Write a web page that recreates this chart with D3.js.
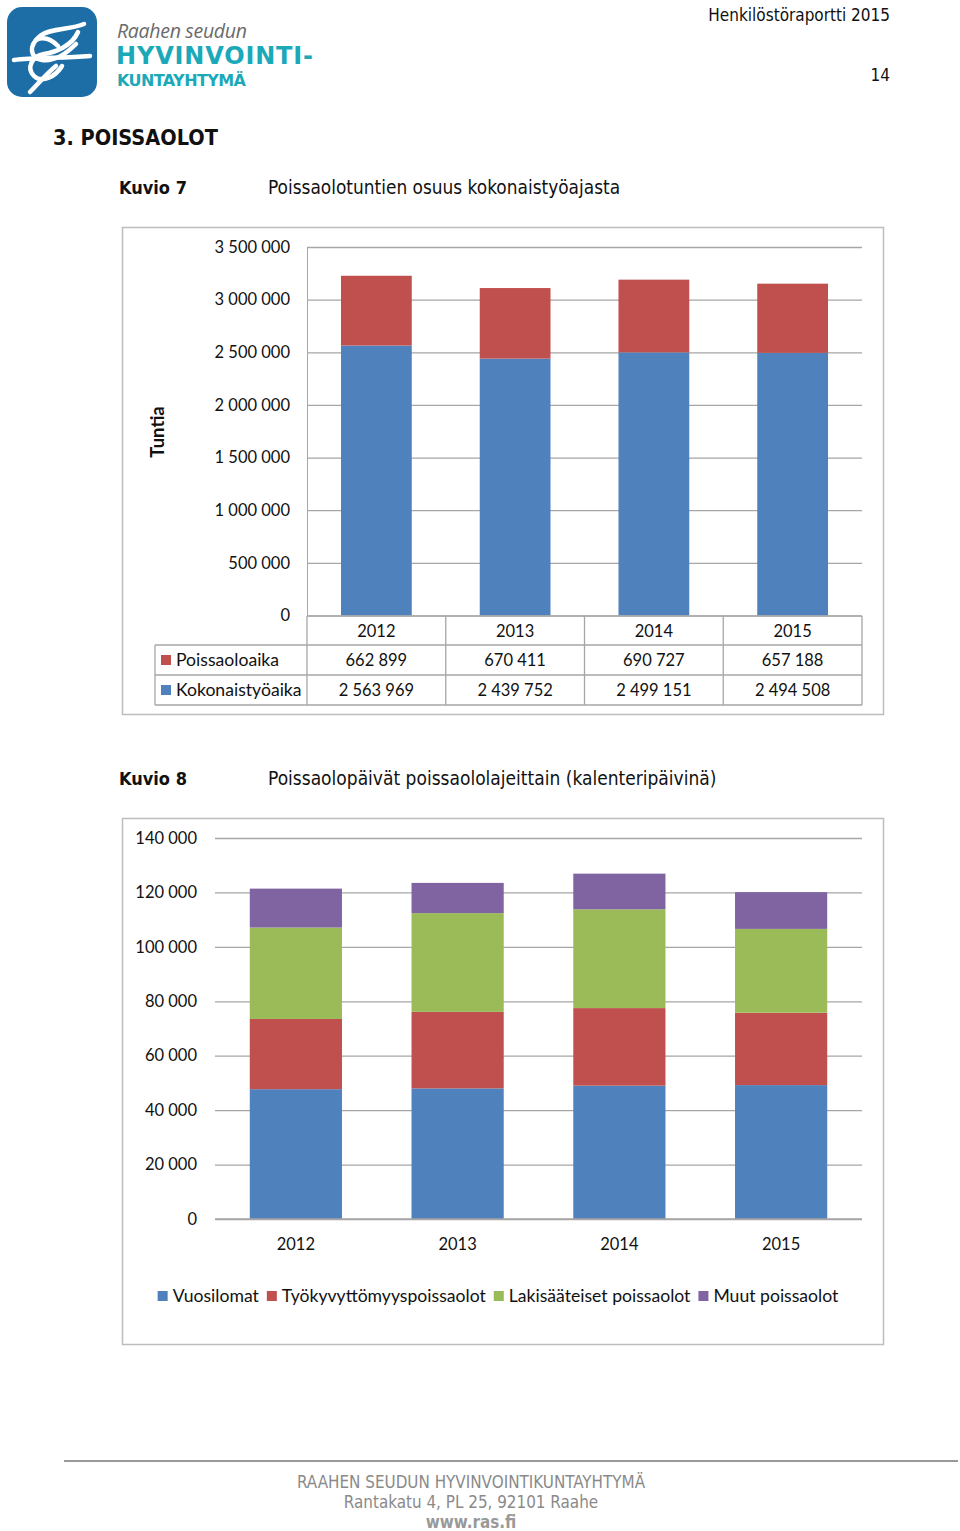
<!DOCTYPE html>
<html><head><meta charset="utf-8">
<script src="https://cdn.jsdelivr.net/npm/d3@7"></script>
<style>
html,body{margin:0;padding:0;background:#fff;}
svg{display:block;}
</style></head>
<body>
<svg id="page" width="960" height="1531"></svg>
<script>
// ---------- DATA ----------
const years = ["2012", "2013", "2014", "2015"];
const poissaoloaika = [662899, 670411, 690727, 657188];
const kokonaistyoaika = [2563969, 2439752, 2499151, 2494508];
const chart1Ticks = [0, 500000, 1000000, 1500000, 2000000, 2500000, 3000000, 3500000];
const chart1Series = ["Kokonaistyöaika", "Poissaoloaika"];

const chart2Series = ["Vuosilomat", "Työkyvyttömyyspoissaolot", "Lakisääteiset poissaolot", "Muut poissaolot"];
const vuosilomat = [47700, 48000, 49000, 49200];
const tyokyvyttomyys = [25800, 28100, 28500, 26600];
const lakisaateiset = [33600, 36300, 36300, 30800];
const muut = [14300, 11100, 13100, 13500];
const chart2Ticks = [0, 20000, 40000, 60000, 80000, 100000, 120000, 140000];

const BLUE = "#4f81bd", RED = "#c0504d", GREEN = "#9bbb59", PURPLE = "#8064a2";
const fmt = v => d3.format(",")(v).replace(/,/g, " ");
const CH = "Lato, 'Open Sans', sans-serif";
const TXT = "'DejaVu Sans Condensed','DejaVu Sans', sans-serif";
const NUM = 16.5, LBL = 17.6;

const svg = d3.select("#page");

// ---------- HEADER / LOGO ----------
const logo = svg.append("g");
logo.append("rect").attr("x", 7).attr("y", 7).attr("width", 90).attr("height", 90).attr("rx", 15).attr("fill", "#1d6ea6");
const knot = logo.append("g").attr("fill", "none").attr("stroke", "#fff").attr("stroke-width", 4.5).attr("stroke-linecap", "round");
knot.append("path").attr("d", "M84,24 C70,30 50,28 40,36 C28,46 30,58 42,60 C56,62 68,52 76,44");
knot.append("path").attr("d", "M78,32 C72,46 56,52 44,54 C32,56 26,68 34,76 C42,84 56,76 62,66");
knot.append("path").attr("d", "M14,60 C34,58 60,58 90,56");
knot.append("path").attr("d", "M56,66 C46,74 38,84 30,92");
knot.append("path").attr("d", "M36,40 C44,36 52,40 58,46");
logo.append("text").attr("x", 117).attr("y", 38).attr("font-family", "'Open Sans', sans-serif").attr("font-style", "italic").attr("font-size", 19.5).attr("fill", "#6b6b6b").attr("textLength", 130).text("Raahen seudun");
logo.append("text").attr("x", 116).attr("y", 64).attr("font-family", "'DejaVu Sans', sans-serif").attr("font-weight", "bold").attr("font-size", 24).attr("fill", "#1ba9b9").attr("textLength", 197).text("HYVINVOINTI-");
logo.append("text").attr("x", 117).attr("y", 86).attr("font-family", "'DejaVu Sans', sans-serif").attr("font-weight", "bold").attr("font-size", 16).attr("fill", "#1ba9b9").attr("textLength", 129).text("KUNTAYHTYMÄ");

svg.append("text").attr("x", 890).attr("y", 21).attr("text-anchor", "end").attr("font-family", TXT).attr("font-size", 17).attr("fill", "#111").text("Henkilöstöraportti 2015");
svg.append("text").attr("x", 890).attr("y", 81).attr("text-anchor", "end").attr("font-family", TXT).attr("font-size", 17).attr("fill", "#111").text("14");

svg.append("text").attr("x", 53).attr("y", 145).attr("font-family", TXT).attr("font-weight", "bold").attr("font-size", 21.5).attr("fill", "#111").text("3.  POISSAOLOT");
svg.append("text").attr("x", 119).attr("y", 194).attr("font-family", TXT).attr("font-weight", "bold").attr("font-size", 18).attr("fill", "#111").text("Kuvio 7");
svg.append("text").attr("x", 268).attr("y", 194).attr("font-family", TXT).attr("font-size", 18.9).attr("fill", "#111").text("Poissaolotuntien osuus kokonaistyöajasta");
svg.append("text").attr("x", 119).attr("y", 785).attr("font-family", TXT).attr("font-weight", "bold").attr("font-size", 18).attr("fill", "#111").text("Kuvio 8");
svg.append("text").attr("x", 268).attr("y", 785).attr("font-family", TXT).attr("font-size", 19).attr("fill", "#111").text("Poissaolopäivät poissaololajeittain (kalenteripäivinä)");

// ---------- CHART 1 ----------
svg.append("rect").attr("x", 122.5).attr("y", 227.5).attr("width", 761).attr("height", 487).attr("fill", "none").attr("stroke", "#bdbdbd").attr("stroke-width", 1.5);
const x1 = d3.scaleBand().domain(years).range([307, 862]).paddingInner(0.49).paddingOuter(0.245);
const y1 = d3.scaleLinear().domain([0, 3500000]).range([615.5, 247]);
const g1 = svg.append("g");
const ax1 = g1.append("g").attr("transform", "translate(307,0)")
  .call(d3.axisLeft(y1).tickValues(chart1Ticks).tickSize(-555).tickPadding(17).tickFormat(fmt));
ax1.select(".domain").attr("stroke", "#a6a6a6");
ax1.selectAll(".tick line").attr("stroke", "#a6a6a6").attr("stroke-width", 1.3);
ax1.selectAll(".tick text").attr("font-family", CH).attr("font-size", NUM).attr("fill", "#111");
ax1.selectAll(".tick").filter(d => d === 0).select("line").remove();

const stack1 = d3.stack().keys([0, 1]).value((d, k) => k === 0 ? d.k : d.p)(years.map((yy, i) => ({year: yy, k: kokonaistyoaika[i], p: poissaoloaika[i]})));
const col1 = [BLUE, RED];
stack1.forEach((s, si) => {
  g1.append("g").selectAll("rect").data(s).join("rect")
    .attr("x", d => x1(d.data.year)).attr("width", x1.bandwidth())
    .attr("y", d => y1(d[1])).attr("height", d => y1(d[0]) - y1(d[1]))
    .attr("fill", col1[si]);
});
g1.append("text").attr("transform", "translate(164,432) rotate(-90)").attr("text-anchor", "middle")
  .attr("font-family", CH).attr("font-weight", "bold").attr("font-size", 18.5).attr("fill", "#111").text("Tuntia");

// data table
const tb = g1.append("g").attr("stroke", "#a6a6a6").attr("stroke-width", 1.3);
const colEdges = [307].concat(years.map(yy => x1(yy) + x1.bandwidth() / 2 + x1.step() / 2));
const rowTop = 616, rowH = [29, 30, 30];
const rowY = [rowTop, rowTop + rowH[0], rowTop + rowH[0] + rowH[1], rowTop + rowH[0] + rowH[1] + rowH[2]];
tb.append("line").attr("x1", 307).attr("x2", 862).attr("y1", rowY[0]).attr("y2", rowY[0]);
[1, 2, 3].forEach(r => tb.append("line").attr("x1", 155).attr("x2", 862).attr("y1", rowY[r]).attr("y2", rowY[r]));
colEdges.forEach(cx => tb.append("line").attr("x1", cx).attr("x2", cx).attr("y1", rowY[0]).attr("y2", rowY[3]));
tb.append("line").attr("x1", 155).attr("x2", 155).attr("y1", rowY[1]).attr("y2", rowY[3]);
const tt = g1.append("g").attr("font-family", CH).attr("font-size", NUM).attr("fill", "#111").attr("text-anchor", "middle");
years.forEach((yy, i) => {
  const cx = x1(yy) + x1.bandwidth() / 2;
  tt.append("text").attr("x", cx).attr("y", rowY[0] + 20.5).text(yy);
  tt.append("text").attr("x", cx).attr("y", rowY[1] + 21).text(fmt(poissaoloaika[i]));
  tt.append("text").attr("x", cx).attr("y", rowY[2] + 21).text(fmt(kokonaistyoaika[i]));
});
[[chart1Series[1], RED, rowY[1]], [chart1Series[0], BLUE, rowY[2]]].forEach(([name, c, ry]) => {
  g1.append("rect").attr("x", 161).attr("y", ry + 10).attr("width", 10).attr("height", 10).attr("fill", c);
  g1.append("text").attr("x", 176).attr("y", ry + 21).attr("font-family", CH).attr("font-size", LBL).attr("fill", "#111").text(name);
});

// ---------- CHART 2 ----------
svg.append("rect").attr("x", 122.5).attr("y", 818.5).attr("width", 761).attr("height", 526).attr("fill", "none").attr("stroke", "#bdbdbd").attr("stroke-width", 1.5);
const x2 = d3.scaleBand().domain(years).range([215, 862]).paddingInner(0.43).paddingOuter(0.215);
const y2 = d3.scaleLinear().domain([0, 140000]).range([1219, 838]);
const g2 = svg.append("g");
const ax2 = g2.append("g").attr("transform", "translate(215,0)")
  .call(d3.axisLeft(y2).tickValues(chart2Ticks).tickSize(-647).tickPadding(18).tickFormat(fmt));
ax2.select(".domain").remove();
ax2.selectAll(".tick line").attr("stroke", "#a6a6a6").attr("stroke-width", 1.3);
ax2.selectAll(".tick text").attr("font-family", CH).attr("font-size", NUM).attr("fill", "#111");

const rows2 = years.map((yy, i) => ({year: yy, s0: vuosilomat[i], s1: tyokyvyttomyys[i], s2: lakisaateiset[i], s3: muut[i]}));
const stack2 = d3.stack().keys(["s0", "s1", "s2", "s3"])(rows2);
const col2 = [BLUE, RED, GREEN, PURPLE];
stack2.forEach((s, si) => {
  g2.append("g").selectAll("rect").data(s).join("rect")
    .attr("x", d => x2(d.data.year)).attr("width", x2.bandwidth())
    .attr("y", d => y2(d[1])).attr("height", d => y2(d[0]) - y2(d[1]))
    .attr("fill", col2[si]);
});
g2.append("line").attr("x1", 215).attr("x2", 862).attr("y1", y2(0)).attr("y2", y2(0)).attr("stroke", "#a6a6a6").attr("stroke-width", 1.3);
const ax2x = g2.append("g").attr("transform", "translate(0,1219)").call(d3.axisBottom(x2).tickSize(0).tickPadding(19));
ax2x.select(".domain").remove();
ax2x.selectAll(".tick text").attr("font-family", CH).attr("font-size", NUM).attr("fill", "#111");

// legend
const lg = g2.append("g");
let lx = 0;
chart2Series.forEach((name, i) => {
  const it = lg.append("g").attr("transform", `translate(${lx},0)`);
  it.append("rect").attr("x", 0).attr("y", -11).attr("width", 10).attr("height", 10).attr("fill", col2[i]);
  const t = it.append("text").attr("x", 15).attr("y", 0).attr("font-family", CH).attr("font-size", LBL).attr("fill", "#111").text(name);
  lx += 15 + t.node().getComputedTextLength() + 8;
});
lx -= 8;
lg.attr("transform", `translate(${498 - lx / 2},1302)`);

// ---------- FOOTER ----------
svg.append("line").attr("x1", 64).attr("x2", 958).attr("y1", 1461).attr("y2", 1461).attr("stroke", "#777").attr("stroke-width", 1.5);
const ft = svg.append("g").attr("font-family", TXT).attr("font-size", 16.9).attr("fill", "#8a8a8a").attr("text-anchor", "middle");
ft.append("text").attr("x", 471).attr("y", 1488).text("RAAHEN SEUDUN HYVINVOINTIKUNTAYHTYMÄ");
ft.append("text").attr("x", 471).attr("y", 1508).text("Rantakatu 4, PL 25, 92101 Raahe");
ft.append("text").attr("x", 471).attr("y", 1528).attr("font-weight", "bold").attr("fill", "#999").text("www.ras.fi");
</script>
</body></html>
